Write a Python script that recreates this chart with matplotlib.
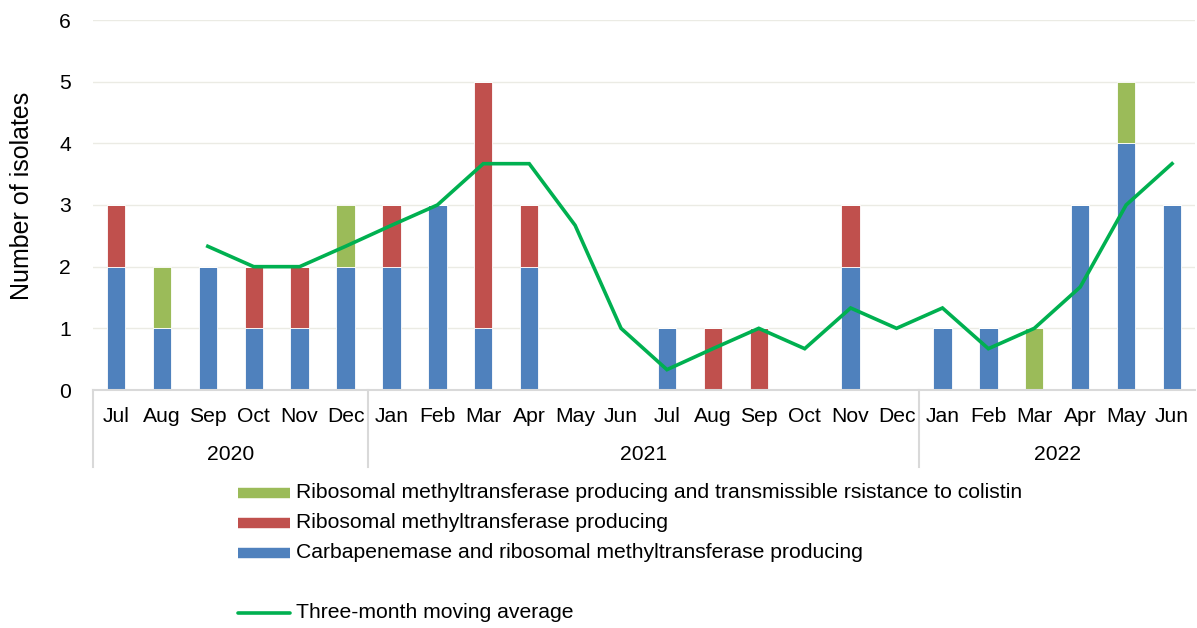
import matplotlib
matplotlib.use("Agg")
import matplotlib.pyplot as plt
from matplotlib.lines import Line2D
import matplotlib.transforms as mtransforms
import numpy as np

plt.rcParams['font.family'] = ['Liberation Sans', 'DejaVu Sans']

months = ["Jul", "Aug", "Sep", "Oct", "Nov", "Dec",
          "Jan", "Feb", "Mar", "Apr", "May", "Jun", "Jul", "Aug", "Sep", "Oct", "Nov", "Dec",
          "Jan", "Feb", "Mar", "Apr", "May", "Jun"]
years = ["2020", "2021", "2022"]
year_spans = [(0, 5), (6, 17), (18, 23)]

carb_rmt = [2, 1, 2, 1, 1, 2, 2, 3, 1, 2, 0, 0, 1, 0, 0, 0, 2, 0, 1, 1, 0, 3, 4, 3]
rmt = [1, 0, 0, 1, 1, 0, 1, 0, 4, 1, 0, 0, 0, 1, 1, 0, 1, 0, 0, 0, 0, 0, 0, 0]
rmt_colistin = [0, 1, 0, 0, 0, 1, 0, 0, 0, 0, 0, 0, 0, 0, 0, 0, 0, 0, 0, 0, 1, 0, 1, 0]
moving_avg = [np.nan, np.nan, 2.33, 2.0, 2.0, 2.33, 2.67, 3.0, 3.67, 3.67, 2.67, 1.0,
              0.33, 0.67, 1.0, 0.67, 1.33, 1.0, 1.33, 0.67, 1.0, 1.67, 3.0, 3.67]

labels = ["Ribosomal methyltransferase producing and transmissible rsistance to colistin",
          "Ribosomal methyltransferase producing",
          "Carbapenemase and ribosomal methyltransferase producing",
          "Three-month moving average"]

c_blue = "#4f81bd"
c_red = "#c0504d"
c_green = "#9bbb59"
c_line = "#00b050"
grid_c = "#ebebe4"
axis_c = "#d9d9d9"
fs = 15.2

fig = plt.figure(figsize=(11.97, 6.28), dpi=100)
ax = fig.add_axes([93/1197, 1-390/628, (1195-93)/1197, 370/628])

x = np.arange(len(months))
w = 0.40
b1 = np.array(carb_rmt)
b2 = np.array(rmt)
b3 = np.array(rmt_colistin)
ax.bar(x, b1, w, color=c_blue, edgecolor="white", linewidth=0.6, zorder=2)
ax.bar(x, b2, w, bottom=b1, color=c_red, edgecolor="white", linewidth=0.6, zorder=2)
ax.bar(x, b3, w, bottom=b1 + b2, color=c_green, edgecolor="white", linewidth=0.6, zorder=2)
ax.plot(x, moving_avg, color=c_line, linewidth=2.6, zorder=3, solid_joinstyle="miter")

ax.set_xlim(-0.5, len(months) - 0.5)
ax.set_ylim(0, 6)
ax.set_yticks(range(0, 7))
ax.yaxis.grid(True, color=grid_c, linewidth=1.0, zorder=0)
ax.set_axisbelow(True)
for s in ["top", "right", "left"]:
    ax.spines[s].set_visible(False)
ax.spines["bottom"].set_color(axis_c)
ax.spines["bottom"].set_linewidth(1.5)
ax.tick_params(axis="y", length=0, pad=16, labelsize=fs)
ax.set_xticks(x)
ax.set_xticklabels(months)
ax.tick_params(axis="x", length=0, pad=12, labelsize=fs)
ax.set_ylabel("Number of isolates", fontsize=18, va="center")
ax.yaxis.set_label_coords(-71/1102, (390-196)/370)

trans = mtransforms.blended_transform_factory(ax.transData, ax.transAxes)
ybot = -77/370
for b in [-0.5, 5.5, 17.5]:
    ax.plot([b, b], [0, ybot], transform=trans, color=axis_c, linewidth=1.5, clip_on=False)
for yl, (s, e) in zip(years, year_spans):
    ax.text((s + e) / 2, -64/370, yl, transform=trans, ha="center", va="center", fontsize=fs)

# legend drawn manually
rows_y = [493, 523, 553, 613]
handles_c = [c_green, c_red, c_blue]
for i in range(3):
    yy = 1 - rows_y[i] / 628
    fig.add_artist(Line2D([238/1197, 290/1197], [yy, yy], color=handles_c[i], linewidth=7.5,
                          solid_capstyle="butt", transform=fig.transFigure))
    fig.text(296/1197, yy, labels[i], ha="left", va="center", fontsize=fs)
yy = 1 - rows_y[3] / 628
fig.add_artist(Line2D([238/1197, 290/1197], [yy, yy], color=c_line, linewidth=2.6,
                      solid_capstyle="round", transform=fig.transFigure))
fig.text(296/1197, yy, labels[3], ha="left", va="center", fontsize=fs)

fig.savefig("out.png", dpi=100)
